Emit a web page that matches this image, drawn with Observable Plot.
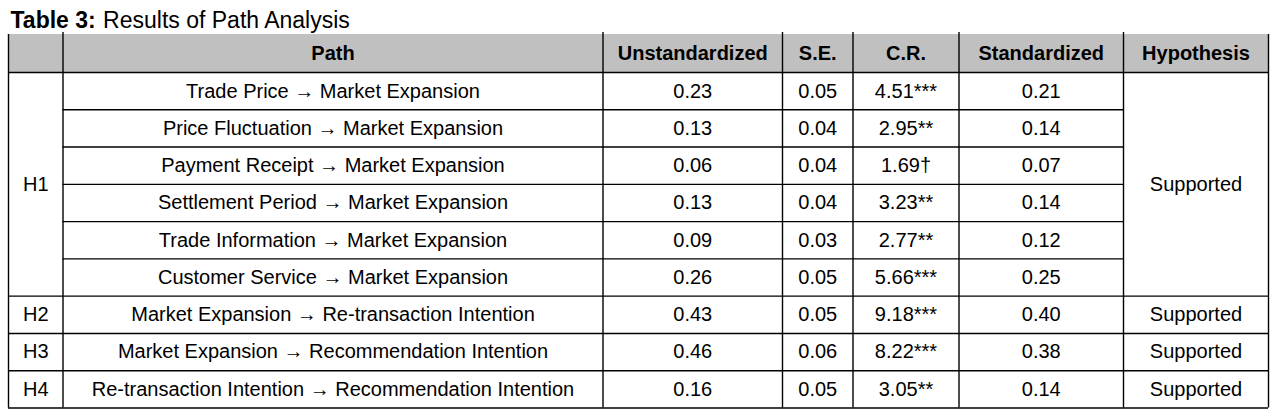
<!DOCTYPE html>
<html>
<head>
<meta charset="utf-8">
<script src="https://cdn.jsdelivr.net/npm/d3@7"></script>
<script src="https://cdn.jsdelivr.net/npm/@observablehq/plot@0.6"></script>
<style>
  html, body { margin: 0; padding: 0; background: #fff; }
  #chart svg { display: block; }
</style>
</head>
<body>
<div id="chart"></div>
<script>
// ---- Data ----
const titleBold = "Table 3:";
const titleRest = "Results of Path Analysis";
const headers = ["", "Path", "Unstandardized", "S.E.", "C.R.", "Standardized", "Hypothesis"];
const hypotheses = ["H1", "H2", "H3", "H4"];
const hypothesisRows = [6, 1, 1, 1]; // number of path rows per hypothesis
const paths = [
  "Trade Price \u2192 Market Expansion",
  "Price Fluctuation \u2192 Market Expansion",
  "Payment Receipt \u2192 Market Expansion",
  "Settlement Period \u2192 Market Expansion",
  "Trade Information \u2192 Market Expansion",
  "Customer Service \u2192 Market Expansion",
  "Market Expansion \u2192 Re-transaction Intention",
  "Market Expansion \u2192 Recommendation Intention",
  "Re-transaction Intention \u2192 Recommendation Intention"
];
const unstandardized = ["0.23", "0.13", "0.06", "0.13", "0.09", "0.26", "0.43", "0.46", "0.16"];
const standardError = ["0.05", "0.04", "0.04", "0.04", "0.03", "0.05", "0.05", "0.06", "0.05"];
const criticalRatio = ["4.51***", "2.95**", "1.69\u2020", "3.23**", "2.77**", "5.66***", "9.18***", "8.22***", "3.05**"];
const standardized = ["0.21", "0.14", "0.07", "0.14", "0.12", "0.25", "0.40", "0.38", "0.14"];
const results = ["Supported", "Supported", "Supported", "Supported"];

// ---- Layout ----
const W = 1280, H = 416;
const colEdges = [8, 62.5, 602.5, 782, 852.5, 958.5, 1123, 1268];
const tableTop = 34, headerBottom = 72, tableBottom = 407.5;
const nRows = paths.length;
const rowH = (tableBottom - headerBottom) / nRows;
const rowTop = i => headerBottom + i * rowH;
const colMid = j => (colEdges[j] + colEdges[j + 1]) / 2;
const font = "'Liberation Sans', Arial, sans-serif";
const fs = 20;
const titleFs = 23;

// measure bold title part so the regular part follows it
const ctx = document.createElement("canvas").getContext("2d");
ctx.font = `bold ${titleFs}px 'Liberation Sans', Arial, sans-serif`;
const titleX = 10;
const restX = titleX + ctx.measureText(titleBold + " ").width + 1;

// hypothesis groups
const groups = [];
{
  let start = 0;
  hypotheses.forEach((h, k) => {
    groups.push({h, start, end: start + hypothesisRows[k], result: results[k]});
    start += hypothesisRows[k];
  });
}

// cells
const cells = [];
headers.forEach((t, j) => cells.push({x: colMid(j), y: (tableTop + headerBottom) / 2, t, bold: true}));
const cols = [paths, unstandardized, standardError, criticalRatio, standardized];
for (let i = 0; i < nRows; i++) {
  cols.forEach((arr, c) => cells.push({x: colMid(c + 1), y: rowTop(i) + rowH / 2, t: arr[i], bold: false}));
}
groups.forEach(g => {
  const yc = (rowTop(g.start) + rowTop(g.end)) / 2;
  cells.push({x: colMid(0), y: yc, t: g.h, bold: false});
  cells.push({x: colMid(6), y: yc, t: g.result, bold: false});
});

// horizontal lines
const hLines = [{y: headerBottom, x1: colEdges[0], x2: colEdges[7]}];
for (let i = 1; i <= nRows; i++) {
  const boundary = groups.some(g => g.end === i);
  hLines.push(boundary
    ? {y: rowTop(i), x1: colEdges[0], x2: colEdges[7]}
    : {y: rowTop(i), x1: colEdges[1], x2: colEdges[6]});
}
// vertical lines
const vLines = colEdges.map((x, j) => ({x, y1: (j === 0 || j === 7) ? tableTop : tableTop - 2, y2: tableBottom}));

const chart = Plot.plot({
  width: W,
  height: H,
  margin: 0,
  x: {type: "linear", domain: [0, W], range: [0, W], axis: null},
  y: {type: "linear", domain: [0, H], range: [0, H], axis: null},
  style: {fontFamily: font, background: "#fff"},
  marks: [
    Plot.rect([{x1: colEdges[0], x2: colEdges[7], y1: tableTop, y2: headerBottom}],
      {x1: "x1", x2: "x2", y1: "y1", y2: "y2", fill: "#c0c0c0"}),
    Plot.ruleY(hLines, {y: "y", x1: "x1", x2: "x2", stroke: "#000", strokeWidth: 1.4}),
    Plot.ruleX(vLines, {x: "x", y1: "y1", y2: "y2", stroke: "#000", strokeWidth: 1.4}),
    Plot.text(cells.filter(d => d.bold), {x: "x", y: "y", text: "t", fontSize: fs, fontWeight: "bold", fill: "#000", textAnchor: "middle", fontFamily: font}),
    Plot.text(cells.filter(d => !d.bold), {x: "x", y: "y", text: "t", fontSize: fs, fill: "#000", textAnchor: "middle", fontFamily: font}),
    Plot.text([titleBold], {x: () => titleX, y: () => 27, text: d => d, fontSize: titleFs, fontWeight: "bold", textAnchor: "start", lineAnchor: "bottom", fill: "#000", fontFamily: font}),
    Plot.text([titleRest], {x: () => restX, y: () => 27, text: d => d, fontSize: titleFs, textAnchor: "start", lineAnchor: "bottom", fill: "#000", fontFamily: font})
  ]
});
document.getElementById("chart").appendChild(chart);
</script>
</body>
</html>
